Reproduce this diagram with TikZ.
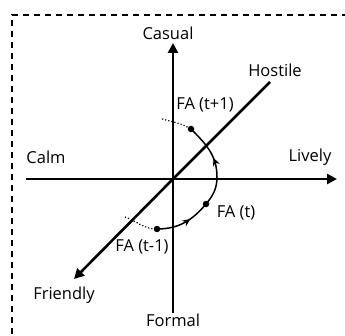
\documentclass[tikz,border=0pt]{standalone}
\usepackage{fontspec}
\setmainfont{Open Sans}
\usetikzlibrary{arrows.meta,decorations.markings}
\tikzset{
  axis/.style={line width=2.6pt,-{Triangle[length=10pt,width=10pt]}},
  axisplain/.style={line width=2.6pt},
  lbl/.style={font=\fontsize{16.5}{18}\selectfont,inner sep=0pt},
  traj/.style={line width=1.5pt},
  midarrow/.style={postaction={decorate},decoration={markings,mark=at position #1 with {\arrow{Stealth[length=8pt,width=7pt]}}}},
  ext/.style={line width=1.2pt,dotted},
  dot/.style={circle,fill=black,inner sep=0pt,minimum size=6.5pt},
  frame/.style={line width=1.4pt,dash pattern=on 6pt off 5pt}
}
\begin{document}
\begin{tikzpicture}[x=1pt,y=1pt]
\useasboundingbox (0,0) rectangle (345,335);
\draw[frame] (12,-10) -- (12,320) -- (360,320);
% axes
\coordinate (O) at (173,156);
\coordinate (vbot) at (173,22);
\coordinate (vtop) at (173,292);
\coordinate (hleft) at (26,156);
\coordinate (hright) at (337,156);
\coordinate (dtop) at (270,253);
\coordinate (dbot) at (74,56);
\draw[axisplain] (vbot) -- (O);
\draw[axis] (O) -- (vtop);
\draw[axisplain] (hleft) -- (O);
\draw[axis] (O) -- (hright);
\draw[axisplain] (dtop) -- (O);
\draw[axis] (O) -- (dbot);
% labels
\node[lbl] (casual) at (168,302) {Casual};
\node[lbl] (hostile) at (275,265) {Hostile};
\node[lbl] (calm) at (46,178) {Calm};
\node[lbl] (lively) at (310,178) {Lively};
\node[lbl] (friendly) at (64,40) {Friendly};
\node[lbl] (formal) at (173,15) {Formal};
\node[lbl] (fa1) at (205,230) {FA (t+1)};
\node[lbl] (fa0) at (236,122) {FA (t)};
\node[lbl] (fam) at (142,88) {FA (t-1)};
% trajectory
\node[dot] (pm) at (157,106) {};
\node[dot] (p0) at (206,131) {};
\node[dot] (p1) at (191,206) {};
\coordinate (r) at (217,158);
\coordinate (em) at (125,118);
\coordinate (e1) at (162,216);
\draw[traj,midarrow=0.62] (pm.center) to[out=0,in=-130] (p0.center);
\draw[traj] (p0.center) to[out=50,in=-90] (r);
\draw[traj,midarrow=0.35] (r) to[out=90,in=-45] (p1.center);
\draw[ext] (em) to[out=-20,in=180] (pm.center);
\draw[ext] (e1) to[out=-15,in=150] (p1.center);
\end{tikzpicture}
\end{document}
